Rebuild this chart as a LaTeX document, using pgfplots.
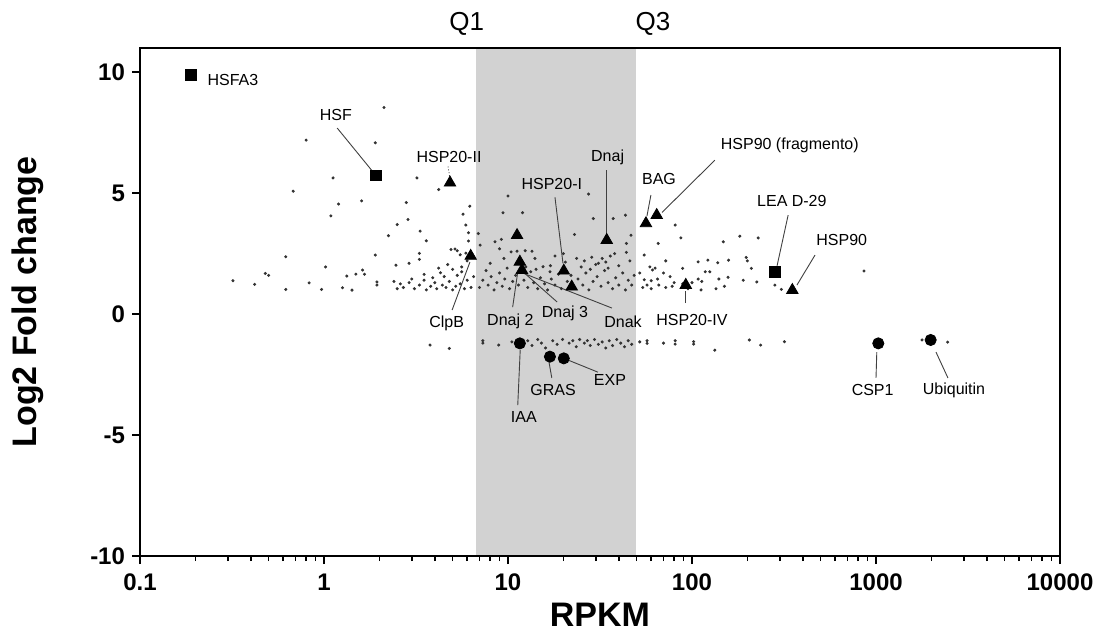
\documentclass[border=0pt]{standalone}
\usepackage{pgfplots}
\pgfplotsset{compat=1.18}
\usepackage{fontspec}
\setmainfont{Liberation Sans}

\tikzset{
  lbl/.style={font=\fontsize{8}{9}\selectfont, inner sep=0.5pt},
  lead/.style={line width=0.45pt, black!75},
}

\begin{document}
\begin{tikzpicture}
\begin{axis}[
    scale only axis,
    width=460pt, height=254pt,
    xmode=log,
    xmin=0.1, xmax=10000,
    ymin=-10, ymax=11,
    xtick={0.1,1,10,100,1000,10000},
    xticklabels={0.1,1,10,100,1000,10000},
    minor xtick={0.2,0.3,0.4,0.5,0.6,0.7,0.8,0.9,
                 2,3,4,5,6,7,8,9,
                 20,30,40,50,60,70,80,90,
                 200,300,400,500,600,700,800,900,
                 2000,3000,4000,5000,6000,7000,8000,9000},
    ytick={-10,-5,0,5,10},
    yticklabels={-10,-5,0,5,10},
    tick pos=left,
    tick align=outside,
    axis line style={line width=1.2pt},
    major tick style={line width=1pt, black},
    minor tick style={line width=0.8pt, black},
    major tick length=4pt,
    minor tick length=2.5pt,
    ticklabel style={font=\fontsize{12}{12}\selectfont\bfseries},
    xticklabel style={yshift=-1.5pt},
    xlabel={RPKM},
    ylabel={Log2 Fold change},
    label style={font=\fontsize{17}{17}\selectfont\bfseries},
    xlabel style={at={(axis description cs:0.5,-0.116)}, anchor=center},
    ylabel style={at={(axis description cs:-0.122,0.5)}, anchor=center},
    axis on top,
    clip=false,
]

% interquartile band
\fill[gray!35] (axis cs:6.67,-10) rectangle (axis cs:49.6,11);
\node[font=\fontsize{13}{13}\selectfont, anchor=base, xshift=-4.5pt, yshift=8.5pt] at (axis cs:6.67,11) {Q1};
\node[font=\fontsize{13}{13}\selectfont, anchor=base, xshift=8.5pt, yshift=8.5pt] at (axis cs:49.6,11) {Q3};

% all other transcripts
\addplot[only marks, mark=*, mark size=0.55pt, black!80] coordinates {
 (2.12,8.54) (0.80,7.19) (1.90,7.08) (1.12,5.63) (3.2,5.63) (0.68,5.08) (4.2,5.15)
 (1.2,4.55) (1.6,4.68) (2.8,4.61) (1.09,4.06) (2.5,3.7) (2.86,3.91) (6.2,4.46)
 (5.7,4.13) (5.9,3.68) (2.24,3.24) (3.33,3.43) (6.1,3.36) (3.6,3.03) (6.1,3.02)
 (0.62,2.37) (1.9,2.44) (3.3,2.51) (3.3,2.26) (4.9,2.67) (5.3,2.62) (1.02,1.95)
 (2.46,2.02) (2.9,2.1) (0.48,1.68) (0.50,1.6) (1.33,1.57) (1.49,1.65) (1.62,1.82)
 (1.66,1.65) (3.5,1.64) (4.3,1.71) (0.32,1.38) (0.42,1.23) (0.62,1.02) (0.83,1.29)
 (0.97,1.02) (1.26,1.09) (1.42,0.99) (1.94,1.33) (1.94,1.2)
 (2.4,1.35) (2.6,1.25) (2.7,1.1) (2.9,1.3) (3.1,1.05) (3.3,1.2) (3.5,1.4) (3.6,1.0)
 (3.8,1.15) (4.0,1.3) (4.1,1.05) (4.4,1.2) (4.6,1.1) (4.8,1.35) (5.0,1.0) (5.2,1.15)
 (5.5,1.25) (5.8,1.05) (6.0,1.4) (6.3,1.1) (2.5,1.05) (3.0,1.45) (3.9,1.5) (4.5,1.55)
 (5.3,1.6) (6.5,1.55) (4.2,1.9) (5.0,1.85) (5.6,1.75) (4.7,2.05) (6.0,2.2) (5.5,2.45)
 (5.15,2.69) (5.6,1.95) (5.9,2.52)
 (10.0,4.88) (27.4,4.96) (9.4,4.19) (12.0,4.19) (29.1,3.95) (37.3,3.95) (43.5,4.09)
 (23,3.29) (46.6,3.26) (44,2.92) (6.9,3.33) (8.5,2.99) (9.2,3.09) (7.06,2.85)
 (10.4,2.57) (11.2,2.6) (12.4,2.62) (13.5,2.6) (9.0,2.7) (23.6,2.3) (26,2.2)
 (28.5,2.35) (31,2.1) (34,2.15) (38,2.5) (36,2.4) (44,2.55) (25,1.95) (30,2.05)
 (35,1.9) (40,2.0) (46,2.2) (15.5,1.96) (16.9,1.75) (14,2.3) (18,2.4) (20,2.5)
 (7.0,1.1) (7.3,1.4) (7.6,1.8) (7.8,1.2) (8.1,1.55) (8.4,1.0) (8.7,1.3) (9.0,1.7)
 (9.3,1.15) (9.6,1.45) (9.9,1.9) (10.2,1.05) (10.6,1.35) (11.0,1.6) (11.4,1.2)
 (12.2,1.4) (12.8,1.1) (13.3,1.75) (13.8,1.3) (14.5,1.05) (15.0,1.5) (15.8,1.25)
 (16.4,1.0) (17.2,1.45) (18.0,1.2) (18.8,1.65) (19.5,1.05) (21,1.35) (22,1.6)
 (23,1.1) (24,1.45) (25.5,1.2) (26.5,1.7) (27.5,1.0) (29,1.35) (30.5,1.55) (32,1.15)
 (33.5,1.8) (35,1.3) (37,1.05) (38.5,1.5) (40,1.2) (42,1.7) (43.5,1.0) (45,1.4)
 (47,1.2) (48.5,1.6) (8.0,2.1) (9.5,2.3) (12.5,1.95) (14.2,1.85) (17,2.0) (20.5,2.15)
 (28,1.85) (32.5,2.3)
 (81,3.68) (87,3.15) (65.5,2.92) (148,2.99) (182,3.22) (229,3.15) (55,2.44) (72,2.2)
 (108,2.16) (122,2.23) (138,2.12) (158,2.23) (197,2.34) (200,2.2) (210,1.89) (89,1.89)
 (118,1.75) (125,1.75) (157,1.52) (190,1.40) (225,1.33) (59,1.95) (61,1.82) (63,1.9)
 (70,1.7) (76,1.55) (65,1.45) (60,1.38) (55,1.42) (54,1.1) (60,1.05) (72,1.1)
 (78,1.15) (80,1.3) (108,1.45) (113,1.35) (112,1.0) (135,1.05) (150,1.15) (140,1.45)
 (89,1.25) (282,1.2) (306,1.02) (860,1.78) (52,1.7) (57,1.2) (66,1.2) (100,1.3) (95,1.05)
 (3.77,-1.28) (4.8,-1.42) (7.3,-1.2) (7.3,-1.1) (8.9,-1.28)
 (10.5,-1.15) (12.8,-1.1) (13.5,-1.3) (14.5,-1.05) (15.2,-1.2) (16.0,-1.4) (17.5,-1.1)
 (18.5,-1.25) (19.8,-1.05) (21.5,-1.2) (22.5,-1.1) (23.5,-1.35) (24.5,-1.05) (26,-1.2)
 (27,-1.1) (28,-1.3) (29.5,-1.05) (31,-1.25) (32.5,-1.15) (34,-1.4) (35.5,-1.1)
 (37,-1.3) (39,-1.05) (41,-1.2) (43,-1.35) (45,-1.1) (47,-1.25)
 (52,-1.15) (57,-1.21) (57,-1.1) (70,-1.2) (81,-1.1) (81,-1.24) (102,-1.14) (102,-1.24)
 (133,-1.49) (205,-1.07) (236,-1.28) (318,-1.14) (1780,-1.07) (2450,-1.16)
};

% heat shock factors, LEA
\addplot[only marks, mark=square*, mark size=2.6pt, black] coordinates {
 (0.189,9.88) (1.91,5.74) (282,1.75)
};
% chaperones
\addplot[only marks, mark=triangle*, mark size=3.3pt, black] coordinates {
 (4.84,5.43) (20.1,1.79) (34.4,3.06) (56.2,3.75) (64.3,4.09) (351,0.99) (92.5,1.2)
 (6.27,2.4) (11.2,3.26) (11.6,2.16) (11.9,1.82) (22.2,1.13)
};
% down-regulated
\addplot[only marks, mark=*, mark size=2.8pt, black] coordinates {
 (11.6,-1.21) (16.9,-1.76) (20.1,-1.83) (1029,-1.21) (1982,-1.07)
};

% annotations
\node[lbl, anchor=west] at (axis cs:0.229,9.67) {HSFA3};
\node[lbl] at (axis cs:1.16,8.22) {HSF};
\draw[lead] (axis cs:1.18,7.69) -- (axis cs:1.91,5.74);
\node[lbl] at (axis cs:4.78,6.5) {HSP20-II};
\draw[lead, densely dotted] (axis cs:4.72,6.1) -- (axis cs:4.84,5.6);
\node[lbl] at (axis cs:17.3,5.37) {HSP20-I};
\draw[lead] (axis cs:18.0,4.83) -- (axis cs:19.9,2.1);
\node[lbl] at (axis cs:34.8,6.49) {Dnaj};
\draw[lead] (axis cs:34.4,5.95) -- (axis cs:34.4,3.3);
\node[lbl] at (axis cs:66.2,5.57) {BAG};
\draw[lead] (axis cs:59.8,4.92) -- (axis cs:56.9,4.05);
\node[lbl] at (axis cs:340,6.98) {HSP90 (fragmento)};
\draw[lead] (axis cs:133,6.36) -- (axis cs:68.7,4.2);
\node[lbl] at (axis cs:349,4.68) {LEA D-29};
\draw[lead] (axis cs:333,4.09) -- (axis cs:290,2.0);
\node[lbl] at (axis cs:651,3.06) {HSP90};
\draw[lead] (axis cs:466,2.44) -- (axis cs:372,1.2);
\node[lbl] at (axis cs:100,-0.25) {HSP20-IV};
\draw[lead] (axis cs:92.7,0.45) -- (axis cs:92.7,0.95);
\node[lbl] at (axis cs:4.64,-0.37) {ClpB};
\draw[lead] (axis cs:4.97,0.17) -- (axis cs:6.21,2.15);
\node[lbl] at (axis cs:10.3,-0.32) {Dnaj 2};
\draw[lead] (axis cs:10.6,0.29) -- (axis cs:11.3,1.74);
\node[lbl] at (axis cs:20.4,0.04) {Dnaj 3};
\draw[lead] (axis cs:18.5,0.5) -- (axis cs:12.1,1.74);
\node[lbl] at (axis cs:42.2,-0.32) {Dnak};
\draw[lead] (axis cs:36.7,0.25) -- (axis cs:12.1,1.69);
\node[lbl] at (axis cs:12.2,-4.26) {IAA};
\draw[lead] (axis cs:11.3,-3.76) -- (axis cs:11.65,-1.49);
\node[lbl] at (axis cs:17.6,-3.14) {GRAS};
\draw[lead] (axis cs:17.3,-2.64) -- (axis cs:16.7,-1.98);
\node[lbl] at (axis cs:35.8,-2.73) {EXP};
\draw[lead] (axis cs:30.8,-2.4) -- (axis cs:21.2,-1.9);
\node[lbl] at (axis cs:959,-3.14) {CSP1};
\draw[lead] (axis cs:1000,-2.64) -- (axis cs:1010,-1.57);
\node[lbl] at (axis cs:2654,-3.14) {Ubiquitin};
\draw[lead] (axis cs:2460,-2.64) -- (axis cs:2118,-1.57);
\end{axis}
\pgfresetboundingbox
\path[use as bounding box] ([shift={(-70pt,-42.5pt)}]current axis.south west)
  rectangle ([shift={(20pt,24pt)}]current axis.north east);
\end{tikzpicture}
\end{document}
